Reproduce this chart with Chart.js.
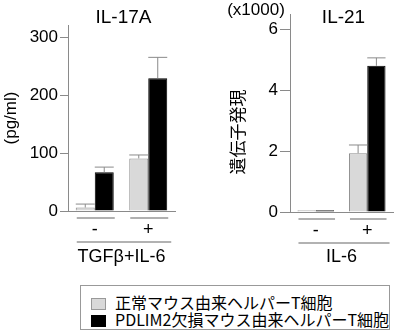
<!DOCTYPE html>
<html>
<head>
<meta charset="utf-8">
<script src="https://cdn.jsdelivr.net/npm/chart.js@4.4.1/dist/chart.umd.min.js"></script>
<style>
  body { margin: 0; background: #fff; }
  #lienzo { position: relative; width: 400px; height: 332px; overflow: hidden; }
  canvas { position: absolute; top: 0; }
  #leyenda {
    position: absolute; left: 80px; top: 285px; width: 308px; height: 43px;
    border: 1px solid #999; font: 16px "Noto Sans CJK JP", sans-serif; color: #000;
  }
  .item { position: absolute; left: 10px; height: 16px; line-height: 16px; white-space: nowrap; }
  .item span { display: inline-block; width: 15px; height: 12px; margin-right: 9px; vertical-align: -1px; box-sizing: border-box; }
</style>
</head>
<body>
<div id="lienzo">
  <canvas id="il17" width="200" height="280" style="left:0"></canvas>
  <canvas id="il21" width="200" height="280" style="left:200px"></canvas>
  <div id="leyenda">
    <div class="item" style="top:8px"><span style="background:#d9d9d9;border:1px solid #999"></span>正常マウス由来ヘルパーT細胞</div>
    <div class="item" style="top:25px"><span style="background:#000"></span>PDLIM2欠損マウス由来ヘルパーT細胞</div>
  </div>
</div>
<script>
// datos
const grupos = ["-", "+"];
const il17Normal = [6, 91];
const il17Pdlim2 = [67, 230];
const il17NormalSd = [6, 6];
const il17Pdlim2Sd = [9, 36];
const il17Ticks = [0, 100, 200, 300];

const il21Normal = [0.06, 1.93];
const il21Pdlim2 = [0.06, 4.8];
const il21NormalSd = [0, 0.27];
const il21Pdlim2Sd = [0, 0.26];
const il21Ticks = [0, 2, 4, 6];

const colorNormal = "#d9d9d9";
const colorPdlim2 = "#000000";
const latina = "'Liberation Sans', Arial, sans-serif";
const japonesa = "'Noto Sans CJK JP', sans-serif";

// barras de error, lineas bajo los grupos y textos extra
const extras = {
  id: "extras",
  afterDatasetsDraw(chart, args, opts) {
    const ctx = chart.ctx;
    const y = chart.scales.y;
    ctx.save();
    ctx.strokeStyle = "#8a8a8a";
    ctx.lineWidth = 1;
    opts.sd.forEach((sd, d) => {
      chart.getDatasetMeta(d).data.forEach((bar, j) => {
        if (!sd[j]) return;
        const tope = y.getPixelForValue(chart.data.datasets[d].data[j] + sd[j]);
        ctx.beginPath();
        ctx.moveTo(bar.x, bar.y);
        ctx.lineTo(bar.x, tope);
        ctx.moveTo(bar.x - bar.width / 2, tope);
        ctx.lineTo(bar.x + bar.width / 2, tope);
        ctx.stroke();
      });
    });
    ctx.restore();
  },
  afterDraw(chart, args, opts) {
    const ctx = chart.ctx;
    const area = chart.chartArea;
    const m0 = chart.getDatasetMeta(0).data;
    const m1 = chart.getDatasetMeta(1).data;
    ctx.save();
    // linea bajo cada grupo
    ctx.strokeStyle = "#b0b0b0";
    ctx.lineWidth = 2;
    m0.forEach((b, j) => {
      const izq = b.x - b.width / 2 + 1;
      const der = m1[j].x + m1[j].width / 2 + 1;
      ctx.beginPath();
      ctx.moveTo(izq, area.bottom + 7);
      ctx.lineTo(der, area.bottom + 7);
      ctx.stroke();
    });
    // linea del tratamiento
    ctx.strokeStyle = "#999";
    ctx.lineWidth = 1.5;
    ctx.beginPath();
    ctx.moveTo(m0[0].x - m0[0].width / 2 + 1, area.bottom + 31);
    ctx.lineTo(m1[m1.length - 1].x + m1[0].width / 2 + 4, area.bottom + 31);
    ctx.stroke();
    // titulo
    ctx.fillStyle = "#000";
    ctx.textAlign = "center";
    ctx.textBaseline = "middle";
    ctx.font = "19px " + latina;
    ctx.fillText(opts.titulo, (area.left + area.right) / 2 + 2, 18);
    if (opts.unidad) {
      ctx.font = "17px " + latina;
      ctx.fillText(opts.unidad, 56, 10);
    }
    if (opts.etiquetaY) {
      ctx.translate(38, 132);
      ctx.rotate(-Math.PI / 2);
      ctx.font = "17px " + japonesa;
      ctx.fillText(opts.etiquetaY, 0, 0);
    }
    ctx.restore();
  },
};

const modeloGrafica = (id, normal, pdlim2, sd, marcas, cfg) => {
  const data = {
    labels: grupos,
    datasets: [
      { data: normal, backgroundColor: colorNormal, borderColor: "#8c8c8c", borderWidth: 1 },
      { data: pdlim2, backgroundColor: colorPdlim2, borderColor: colorPdlim2, borderWidth: 1 },
    ],
  };

  const options = {
    responsive: false,
    animation: false,
    layout: { padding: cfg.padding },
    datasets: { bar: { barPercentage: 1, categoryPercentage: 0.71 } },
    plugins: {
      legend: { display: false },
      tooltip: { enabled: false },
      extras: { sd: sd, titulo: cfg.titulo, unidad: cfg.unidad, etiquetaY: cfg.etiquetaY },
    },
    scales: {
      x: {
        offset: true,
        grid: { display: false, drawTicks: false },
        border: { display: true, color: "#8a8a8a", width: 1 },
        ticks: { color: "#000", font: { family: latina, size: 18 }, padding: 8 },
        title: {
          display: true, text: cfg.tratamiento, color: "#000",
          font: { family: latina, size: 18 }, padding: { top: 0, bottom: 12 },
        },
        afterFit: (s) => { s.height = cfg.altoX; },
      },
      y: {
        min: 0,
        max: cfg.max,
        ticks: { color: "#000", font: { family: latina, size: 17 }, padding: 2 },
        afterBuildTicks: (s) => { s.ticks = marcas.map((v) => ({ value: v })); },
        grid: { drawOnChartArea: false, drawTicks: true, tickLength: cfg.marca, color: "#8a8a8a" },
        border: { display: true, color: "#8a8a8a", width: 1 },
        title: {
          display: !!cfg.tituloY, text: cfg.tituloY, color: "#000",
          font: { family: latina, size: 17 }, padding: { top: 1.5, bottom: 0 },
        },
        afterFit: (s) => { s.width = cfg.anchoY; },
      },
    },
  };

  new Chart(id, { type: "bar", data, options, plugins: [extras] });
};

modeloGrafica("il17", il17Normal, il17Pdlim2, [il17NormalSd, il17Pdlim2Sd], il17Ticks, {
  titulo: "IL-17A", tituloY: "(pg/ml)", tratamiento: "TGFβ+IL-6",
  max: 322, marca: 8, anchoY: 68, altoX: 69,
  padding: { left: 0, right: 25, top: 25, bottom: 0 },
});

modeloGrafica("il21", il21Normal, il21Pdlim2, [il21NormalSd, il21Pdlim2Sd], il21Ticks, {
  titulo: "IL-21", unidad: "(x1000)", etiquetaY: "遺伝子発現", tratamiento: "IL-6",
  max: 6.5, marca: 10, anchoY: 90, altoX: 68,
  padding: { left: 0, right: 7, top: 14, bottom: 0 },
});
</script>
</body>
</html>
